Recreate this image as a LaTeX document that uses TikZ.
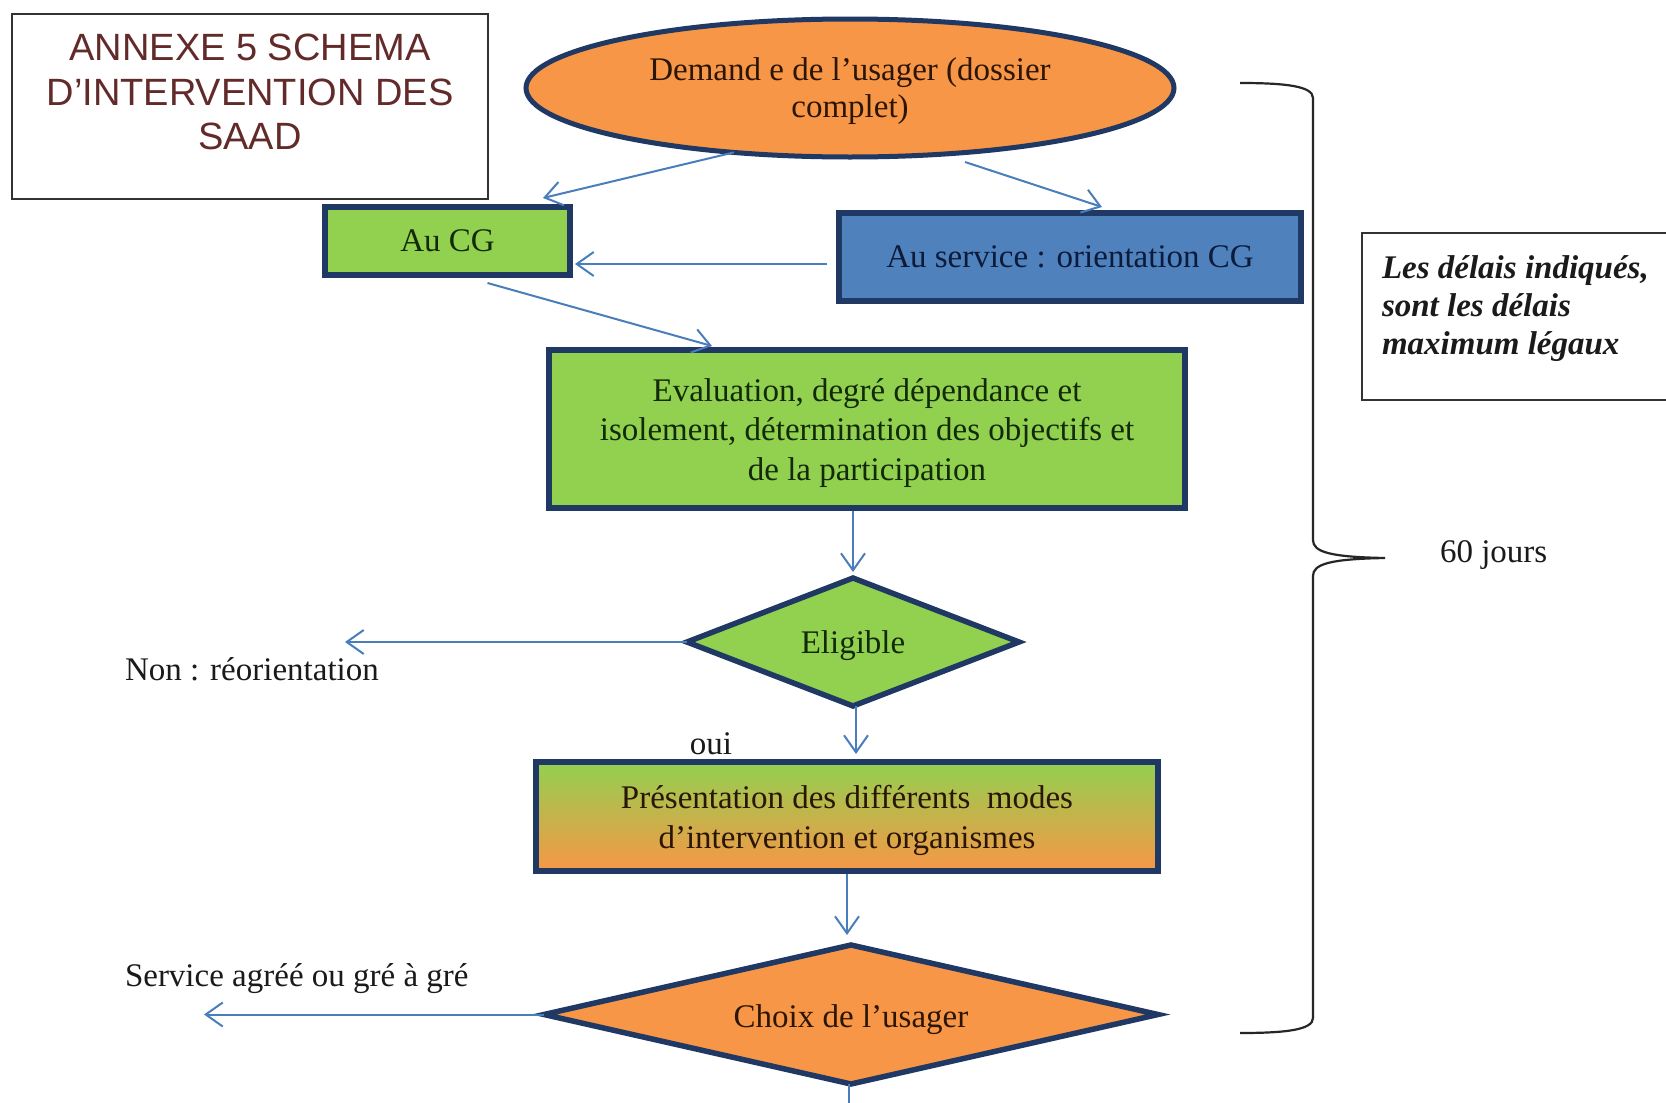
\documentclass[tikz,border=0pt]{standalone}
\usepackage{fontspec}
\setmainfont{Liberation Serif}
\newfontfamily\titlefont{Liberation Sans}
\usetikzlibrary{shapes.geometric,arrows.meta,calc}
\definecolor{cgreen}{HTML}{92D050}
\definecolor{corange}{HTML}{F79646}
\definecolor{cblue}{HTML}{4F81BD}
\definecolor{cnavy}{HTML}{1F3864}
\definecolor{carrow}{HTML}{4A7EBB}
\definecolor{ctitle}{HTML}{632A2A}
\definecolor{ctext}{HTML}{1A1A1A}
\definecolor{cbrown}{HTML}{2B1606}
\definecolor{cdkgreen}{HTML}{132A08}
\definecolor{cdknavy}{HTML}{0C1B3A}
\newcommand\lowerstrut[1]{\rule{0pt}{#1}}
\begin{document}
\begin{tikzpicture}[x=1pt,y=-1pt,
  every node/.style={font=\fontsize{33}{38.5}\selectfont, inner sep=0pt, outer sep=0pt, text=ctext},
  flowbox/.style={draw=cnavy, line width=5.5pt, rectangle, align=center},
  flowdiam/.style={draw=cnavy, line width=5.5pt, diamond},
  arr/.style={draw=carrow, line width=2pt, -{Straight Barb[length=17pt,width=24pt,line width=2pt]}},
  plainbox/.style={draw=black!80, line width=1.8pt, rectangle},
  bracestyle/.style={draw=black!85, line width=2.2pt}
]
\useasboundingbox (0,0) rectangle (1666,1103);
\clip (0,0) rectangle (1666,1103);
\fill[white] (0,0) rectangle (1666,1103);

% title
\node[plainbox, minimum width=476pt, minimum height=185pt] (titlebox) at (250,106.5) {};
\node[font=\titlefont\fontsize{38}{44.5}\selectfont, text=ctitle, align=center] (title) at (250,92) {ANNEXE 5 SCHEMA\\D’INTERVENTION DES\\SAAD};

% note
\node[plainbox, minimum width=327pt, minimum height=167pt] (notebox) at (1525.5,316.5) {};
\node[font=\bfseries\itshape\fontsize{33}{38}\selectfont, align=left, anchor=west] (notetext) at (1382,309) {Les délais indiqués,\\sont les délais\\maximum légaux};

% flow nodes
\node[ellipse, draw=cnavy, line width=5pt, fill=corange, minimum width=648pt, minimum height=138pt, align=center, text=cbrown, font=\fontsize{33}{37}\selectfont] (ell) at (850,88) {\lowerstrut{29pt}Demand e de l’usager (dossier\\complet)};
\node[flowbox, fill=cgreen, minimum width=245pt, minimum height=68pt, text=cdkgreen] (aucg) at (447.5,241) {Au CG};
\node[flowbox, fill=cblue, minimum width=462pt, minimum height=88pt, text=cdknavy] (serv) at (1070,257) {Au service : orientation CG};
\node[flowbox, fill=cgreen, minimum width=636pt, minimum height=158pt, text=cdkgreen, font=\fontsize{33}{39.5}\selectfont] (eval) at (867,429) {\lowerstrut{31pt}Evaluation, degré dépendance et\\isolement, détermination des objectifs et\\de la participation};
\node[flowdiam, fill=cgreen, aspect=2.6, minimum width=332pt, minimum height=128pt, text=cdkgreen] (elig) at (853,642) {\lowerstrut{31pt}Eligible};
\node (oui) at (711,744) {oui};
\node[flowbox, top color=cgreen, bottom color=corange, minimum width=622pt, minimum height=109pt, text=cbrown, font=\fontsize{33}{40}\selectfont] (pres) at (847,816.5) {\lowerstrut{31.5pt}Présentation des différents~ modes\\d’intervention et organismes};
\node[flowdiam, fill=corange, aspect=4.4, minimum width=614pt, minimum height=139pt, text=cbrown] (choix) at (851,1014.5) {\lowerstrut{33pt}Choix de l’usager};

% side labels
\node[anchor=west] (non) at (125,669) {Non : réorientation};
\node[anchor=west] (servag) at (125,979) {Service agréé ou gré à gré};
\node[anchor=west] (jours) at (1440,555) {60 jours};

% free ends
\coordinate (nonend) at (345,642);
\coordinate (servend) at (204,1014.5);
\coordinate (bottomend) at (849,1110);

% connectors
\draw[arr] (ell.209) -- ($(aucg.north east)+(-27,-9)$);
\draw[arr] ($(ell.south)+(115,5)$) -- ($(serv.north)+(32,-6)$);
\draw[arr] ($(serv.west)+(-12,7)$) -- ($(aucg.east)+(5,23)$);
\draw[arr] ($(aucg.south)+(40,8)$) -- ($(eval.north)+(-155,-4)$);
\draw[arr] ($(elig.north |- eval.south)+(0,3)$) -- ($(elig.north)+(0,-6)$);
\draw[arr] (elig.west) -- (nonend);
\draw[arr] ($(elig.south)+(3,0)$) -- ($(elig.south |- pres.north)+(3,-8)$);
\draw[arr] ($(pres.south)+(0,3)$) -- ($(pres.south |- choix.north)+(0,-10)$);
\draw[arr] (choix.west) -- (servend);
\draw[draw=carrow, line width=2pt] ($(choix.south)+(-2,0)$) -- (bottomend);

% brace
\draw[bracestyle] (1240,83) .. controls (1285,83) and (1313,86) .. (1313,98)
  -- (1313,540) .. controls (1313,552) and (1330,557) .. (1385,558)
  .. controls (1330,559) and (1313,564) .. (1313,576)
  -- (1313,1018) .. controls (1313,1030) and (1285,1033) .. (1240,1033);
\end{tikzpicture}
\end{document}
